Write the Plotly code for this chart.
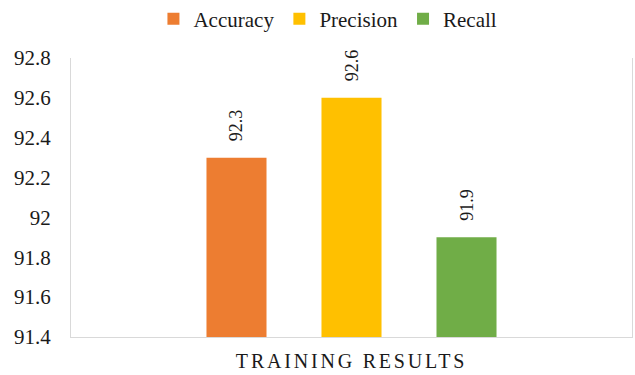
import plotly.graph_objects as go

category = ["TRAINING RESULTS"]
series_names = ["Accuracy", "Precision", "Recall"]
series_values = [[92.3], [92.6], [91.9]]
series_colors = ["#ED7D31", "#FFC000", "#70AD47"]
y_tick_vals = [91.4, 91.6, 91.8, 92.0, 92.2, 92.4, 92.6, 92.8]
y_tick_text = ["91.4", "91.6", "91.8", "92", "92.2", "92.4", "92.6", "92.8"]

FONT = "Liberation Serif"
TXT = "#1a1a1a"

fig = go.Figure()
for name, vals, col in zip(series_names, series_values, series_colors):
    fig.add_trace(go.Bar(
        x=category, y=vals, name=name, marker=dict(color=col, line=dict(width=0)),
        text=["\u00a0\u00a0\u00a0" + f"{v:g}" for v in vals], textposition="outside", textangle=-90,
        textfont=dict(family=FONT, size=18, color=TXT), cliponaxis=False,
    ))

fig.update_layout(
    width=635, height=375,
    margin=dict(l=71, r=3, t=58, b=38, autoexpand=False),
    paper_bgcolor="white", plot_bgcolor="white",
    barmode="group", bargap=0.385, bargroupgap=0.478,
    font=dict(family=FONT, size=20, color=TXT),
    showlegend=True,
    legend=dict(orientation="h", x=0.458, xanchor="center", y=1.139, yanchor="middle",
                font=dict(family=FONT, size=21, color=TXT), itemwidth=30,
                tracegroupgap=0),
    xaxis=dict(showline=True, linecolor="#D9D9D9", linewidth=1, showgrid=False,
               ticks="", tickfont=dict(family=FONT, size=20, color=TXT), ticklabelstandoff=6),
    yaxis=dict(range=[91.4, 92.8], tickvals=y_tick_vals, ticktext=y_tick_text,
               showline=True, linecolor="#D9D9D9", linewidth=1, mirror=True,
               showgrid=False, zeroline=False, ticks="", ticklabelstandoff=15,
               tickfont=dict(family=FONT, size=21, color=TXT)),
)

post = """
document.querySelectorAll('.xtick text').forEach(function(t){t.style.letterSpacing='2.8px';});
"""
fig.write_html("out.html", post_script=post)
